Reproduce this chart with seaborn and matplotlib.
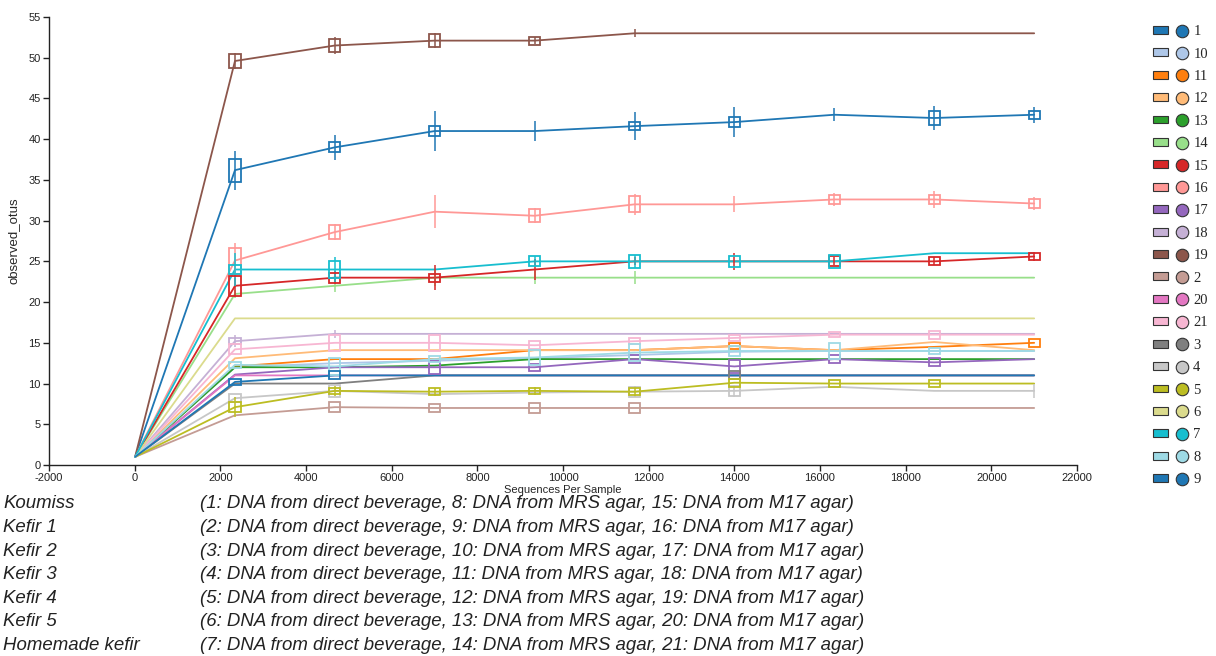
import numpy as np
import pandas as pd
import matplotlib
matplotlib.use('Agg')
import matplotlib.pyplot as plt
import seaborn as sns
from matplotlib.patches import Patch
from matplotlib.lines import Line2D
from matplotlib.legend_handler import HandlerTuple

# --- DATA ---
depths = [10, 2342, 4674, 7006, 9338, 11670, 14002, 16334, 18666, 21000]

samples = ['1', '10', '11', '12', '13', '14', '15', '16', '17', '18', '19',
           '2', '20', '21', '3', '4', '5', '6', '7', '8', '9']
colors = ['#1f77b4', '#aec7e8', '#ff7f0e', '#ffbb78', '#2ca02c', '#98df8a',
          '#d62728', '#ff9896', '#9467bd', '#c5b0d5', '#8c564b', '#c49c94',
          '#e377c2', '#f7b6d2', '#7f7f7f', '#c7c7c7', '#bcbd22', '#dbdb8d',
          '#17becf', '#9edae5', '#1f77b4']

# mean observed otus per sample
otus_1 = [1, 36.2, 39, 41, 41, 41.6, 42.1, 43, 42.6, 43]
otus_2 = [1, 6.1, 7.1, 7, 7, 7, 7, 7, 7, 7]
otus_3 = [1, 10, 10, 11, 11, 11, 11, 11, 11, 11]
otus_4 = [1, 8.2, 9.1, 8.7, 8.9, 9, 9.1, 9.6, 9.1, 9.1]
otus_5 = [1, 7.1, 9.1, 9, 9.1, 9, 10.1, 10, 10, 10]
otus_6 = [1, 18, 18, 18, 18, 18, 18, 18, 18, 18]
otus_7 = [1, 24, 24, 24, 25, 25, 25, 25, 26, 26]
otus_8 = [1, 12.3, 12.1, 13, 13.2, 13.8, 14, 14, 14, 14]
otus_9 = [1, 10.2, 11, 11, 11, 11, 11, 11, 11, 11]
otus_10 = [1, 12, 12.5, 12.8, 13.1, 13.5, 13.9, 14, 14, 14]
otus_11 = [1, 12.1, 13, 13, 14.1, 14.1, 14.6, 14.1, 14.5, 15]
otus_12 = [1, 13.1, 14.1, 14.1, 14.1, 14.1, 14.6, 14.1, 15.1, 14.1]
otus_13 = [1, 12, 12, 12.2, 13, 13, 13, 13, 13, 13]
otus_14 = [1, 21, 22, 23, 23, 23, 23, 23, 23, 23]
otus_15 = [1, 22, 23, 23, 24, 25, 25, 25, 25, 25.6]
otus_16 = [1, 25.1, 28.6, 31.1, 30.6, 32, 32, 32.6, 32.6, 32.1]
otus_17 = [1, 11.1, 12, 12, 12, 13, 12.1, 13, 12.6, 13]
otus_18 = [1, 15.2, 16.1, 16.1, 16.1, 16.1, 16.1, 16.1, 16.1, 16.1]
otus_19 = [1, 49.6, 51.5, 52.1, 52.1, 53, 53, 53, 53, 53]
otus_20 = [1, 11, 11, 11, 11, 11, 11, 11, 11, 11]
otus_21 = [1, 14.2, 15, 15, 14.7, 15.2, 15.6, 16, 16, 16]

# half height of the spread box (0 = no box)
box_1 = [0, 1.4, 0.6, 0.6, 0, 0.5, 0.6, 0, 0.9, 0.5]
box_2 = [0, 0, 0.6, 0.5, 0.6, 0.6, 0, 0, 0, 0]
box_3 = [0, 0, 0, 0, 0, 0, 0.5, 0, 0, 0]
box_4 = [0, 0.5, 0.7, 0, 0, 0.6, 0.6, 0, 0, 0]
box_5 = [0, 0.6, 0.4, 0.4, 0.4, 0.4, 0.5, 0.4, 0.4, 0]
box_7 = [0, 0.5, 1.0, 0, 0.6, 0.8, 0.7, 0.8, 0, 0]
box_8 = [0, 0.4, 1.0, 0.4, 0.9, 1.0, 0.6, 1.0, 0.4, 0]
box_9 = [0, 0.4, 0.5, 0, 0, 0, 0, 0, 0, 0]
box_11 = [0, 0, 0, 0, 0, 0, 0.4, 0, 0, 0.5]
box_15 = [0, 1.2, 0.6, 0.5, 0, 0, 0, 0.6, 0.5, 0.4]
box_16 = [0, 1.6, 0.9, 0, 0.8, 1.0, 0, 0.5, 0.5, 0.6]
box_17 = [0, 0, 0, 0.8, 0.4, 0.5, 0.8, 0.5, 0.5, 0]
box_18 = [0, 0.4, 0, 0, 0, 0, 0, 0, 0, 0]
box_19 = [0, 0.8, 0.8, 0.8, 0.5, 0, 0, 0, 0, 0]
box_21 = [0, 0.6, 1.0, 1.0, 0.5, 0.4, 0.4, 0.3, 0.5, 0]

# whisker half length
err_1 = [0, 2.4, 1.5, 2.4, 1.2, 1.7, 1.8, 0.8, 1.5, 1.0]
err_4 = [0, 0, 0, 0, 0, 0, 0.7, 0, 0, 0.9]
err_5 = [0, 1.2, 0.6, 0.5, 0.5, 0.7, 0, 0, 0, 0]
err_7 = [0, 2.0, 1.5, 0, 0.6, 0.8, 0, 0, 0, 0]
err_14 = [0, 0.5, 0.8, 1.0, 0.8, 0.8, 0, 0, 0, 0]
err_15 = [0, 1.4, 0.8, 1.5, 1.3, 0.5, 1.0, 0.5, 0.5, 0.5]
err_16 = [0, 2.2, 1.0, 2.0, 0.9, 1.3, 1.0, 0.8, 1.0, 0.8]
err_18 = [0, 0.7, 0.5, 0, 0, 0, 0, 0, 0, 0]
err_19 = [0, 1.0, 1.0, 0.9, 0.4, 0.5, 0, 0, 0, 0]

group_names = ['Koumiss', 'Kefir 1', 'Kefir 2', 'Kefir 3', 'Kefir 4', 'Kefir 5', 'Homemade kefir']
group_notes = [
    '(1: DNA from direct beverage, 8: DNA from MRS agar, 15: DNA from M17 agar)',
    '(2: DNA from direct beverage, 9: DNA from MRS agar, 16: DNA from M17 agar)',
    '(3: DNA from direct beverage, 10: DNA from MRS agar, 17: DNA from M17 agar)',
    '(4: DNA from direct beverage, 11: DNA from MRS agar, 18: DNA from M17 agar)',
    '(5: DNA from direct beverage, 12: DNA from MRS agar, 19: DNA from M17 agar)',
    '(6: DNA from direct beverage, 13: DNA from MRS agar, 20: DNA from M17 agar)',
    '(7: DNA from direct beverage, 14: DNA from MRS agar, 21: DNA from M17 agar)',
]

# --- BUILD TABLE ---
g = globals()
zeros = [0] * len(depths)
rows = []
for s in samples:
    vals = g['otus_' + s]
    box = g.get('box_' + s, zeros)
    err = g.get('err_' + s, zeros)
    for d, v, b, e in zip(depths, vals, box, err):
        rows.append({'sample': s, 'depth': d, 'otus': v, 'box': b, 'err': e})
df = pd.DataFrame(rows)
palette = dict(zip(samples, colors))

# --- PLOT ---
sns.set_style('white')
plt.rcParams['font.family'] = ['Liberation Sans', 'DejaVu Sans']
plt.rcParams['axes.unicode_minus'] = False

fig = plt.figure(figsize=(12.16, 6.56), dpi=100)
ax = fig.add_axes([49 / 1216, 1 - 465 / 656, (1077 - 49) / 1216, (465 - 17) / 656])

sns.lineplot(data=df, x='depth', y='otus', hue='sample', palette=palette,
             hue_order=samples, linewidth=1.3, legend=False, ax=ax, zorder=3)

for s in samples:
    sub = df[df['sample'] == s]
    c = palette[s]
    w = sub[sub['err'] > 0]
    ax.vlines(w['depth'], w['otus'] - w['err'], w['otus'] + w['err'],
              color=c, linewidth=1.1, zorder=3)
    b = sub[sub['box'] > 0]
    ax.bar(b['depth'], 2 * b['box'], bottom=b['otus'] - b['box'], width=260,
           fill=False, edgecolor=c, linewidth=1.3, zorder=4)

ax.set_xlim(-2000, 22000)
ax.set_ylim(0, 55)
ax.set_xticks(np.arange(-2000, 22001, 2000))
ax.set_yticks(np.arange(0, 56, 5))
ax.tick_params(axis='both', direction='out', length=4, width=1, labelsize=8,
               colors='#222222', bottom=True, left=True, pad=2)
for sp in ['top', 'right']:
    ax.spines[sp].set_visible(False)
for sp in ['left', 'bottom']:
    ax.spines[sp].set_color('#222222')
    ax.spines[sp].set_linewidth(1)
ax.set_xlabel('Sequences Per Sample', fontsize=8, labelpad=1)
ax.set_ylabel('observed_otus', fontsize=9.5, labelpad=6)

# legend: swatch + dot per sample
handles = [(Patch(facecolor=c, edgecolor='#333333', linewidth=0.8),
            Line2D([], [], marker='o', linestyle='', markersize=9,
                   markerfacecolor=c, markeredgecolor='#333333', markeredgewidth=0.8))
           for c in colors]
fig.legend(handles, samples, loc='upper left', bbox_to_anchor=(1140 / 1216, 1 - 12 / 656),
           frameon=False, handler_map={tuple: HandlerTuple(ndivide=None, pad=0.4)},
           handlelength=2.5, handleheight=0.45, handletextpad=0.25, labelspacing=0.645,
           prop={'family': 'Liberation Serif', 'size': 10.5})

# caption block
for i, (name, note) in enumerate(zip(group_names, group_notes)):
    y = 1 - (504 + 23.6 * i) / 656
    fig.text(3 / 1216, y, name, fontsize=13.4, style='italic', va='center', color='#222222')
    fig.text(200 / 1216, y, note, fontsize=13.4, style='italic', va='center', color='#222222')

fig.savefig('out.png', dpi=100)
